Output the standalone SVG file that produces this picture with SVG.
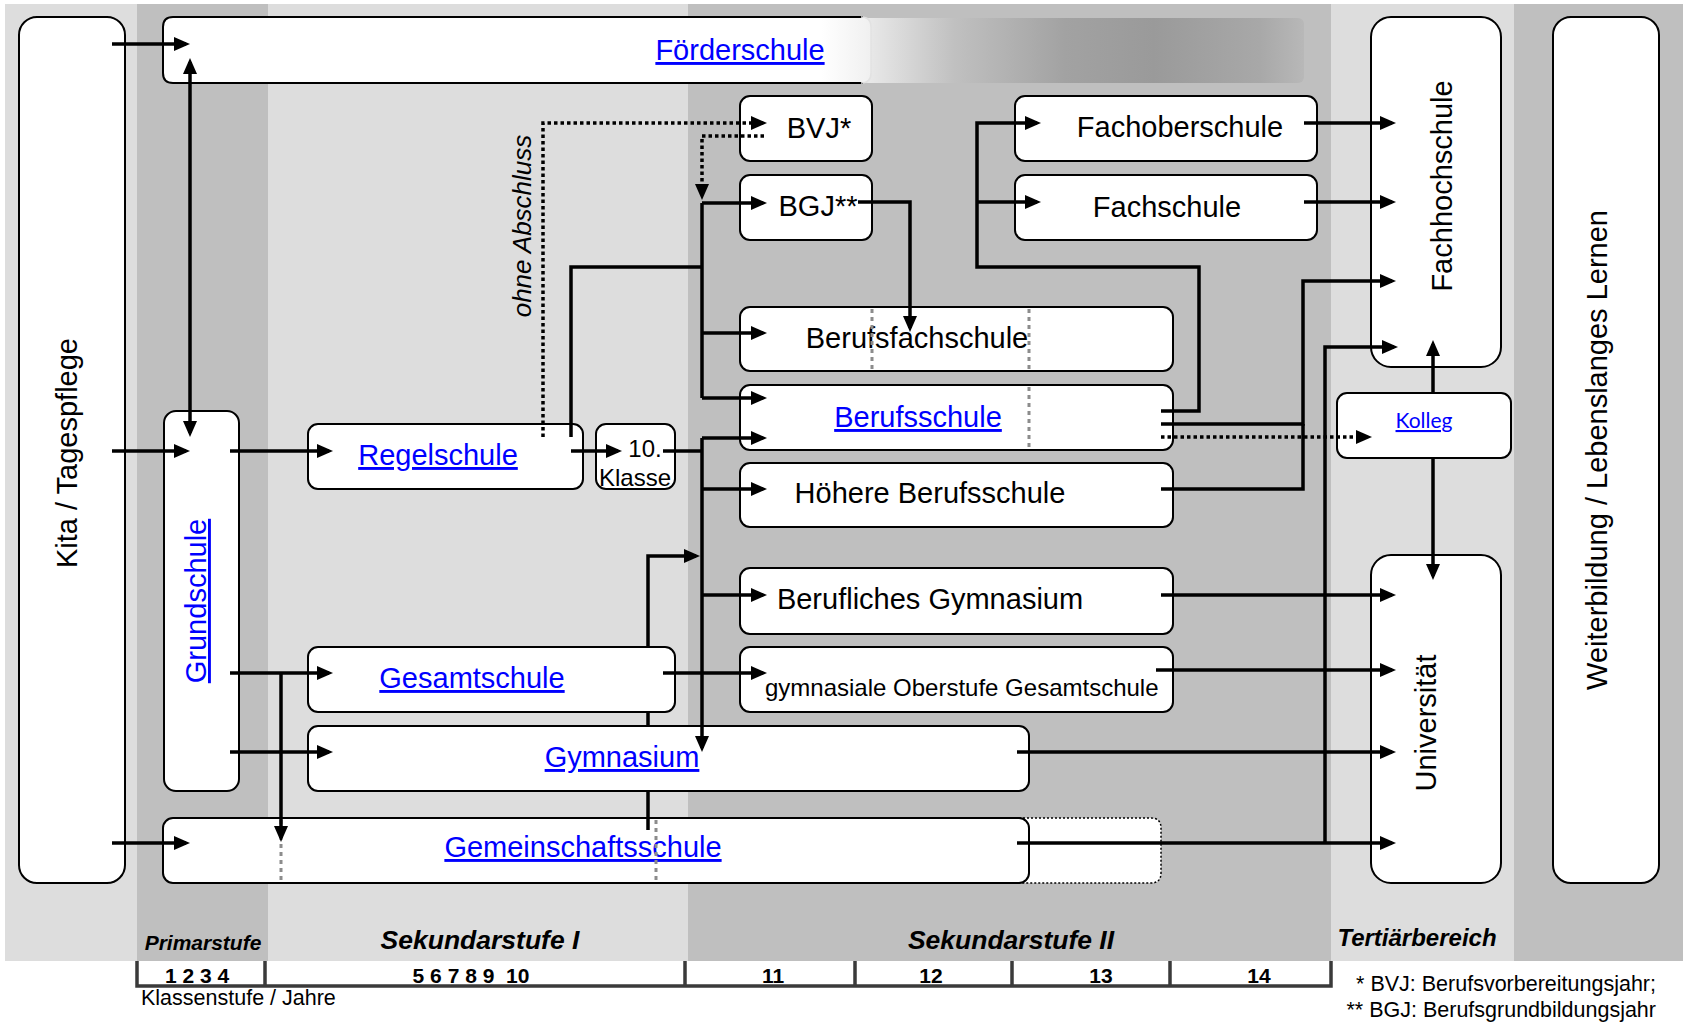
<svg xmlns="http://www.w3.org/2000/svg" width="1683" height="1023" viewBox="0 0 1683 1023">
<style>
.bg{fill:#dddddd}
.bd{fill:#bfbfbf}
.box{fill:#ffffff;stroke:#000;stroke-width:2}
.t{font-family:"Liberation Sans",Arial,sans-serif;font-size:29px;fill:#000}
.lk{fill:#0000ff;text-decoration:underline}
.mid{text-anchor:middle}
.hdr{font-family:"Liberation Sans",Arial,sans-serif;font-weight:bold;font-style:italic;fill:#000;text-anchor:middle}
.num{font-family:"Liberation Sans",Arial,sans-serif;font-weight:bold;font-size:21px;fill:#000;text-anchor:middle;white-space:pre}
.div{stroke:#8c8c8c;stroke-width:3;stroke-dasharray:4 4;fill:none}
.c{stroke:#000;stroke-width:3.5;fill:none}
.a{marker-end:url(#ah)}
.d{stroke:#000;stroke-width:3.5;fill:none;stroke-dasharray:3.5 3}
.ax{stroke:#3a3a3a;stroke-width:3.5;fill:none}
</style>
<defs>
<marker id="ah" viewBox="0 0 16 14" refX="12" refY="7" markerWidth="16" markerHeight="14" markerUnits="userSpaceOnUse" orient="auto-start-reverse">
<path d="M0,0 L16,7 L0,14 z" fill="#000"/>
</marker>
<linearGradient id="fade" x1="0" y1="0" x2="1" y2="0">
<stop offset="0" stop-color="#ececec"/>
<stop offset="0.21" stop-color="#c0c0c0"/>
<stop offset="0.46" stop-color="#a2a2a2"/>
<stop offset="0.66" stop-color="#9a9a9a"/>
<stop offset="0.9" stop-color="#a8a8a8"/>
<stop offset="1" stop-color="#b8b8b8"/>
</linearGradient>
<linearGradient id="wfade" x1="0" y1="0" x2="1" y2="0">
<stop offset="0" stop-color="#ffffff"/>
<stop offset="0.93" stop-color="#ffffff"/>
<stop offset="1" stop-color="#f0f0f0"/>
</linearGradient>
</defs>

<g id="background">
<rect class="bg" x="5" y="4" width="1678" height="957"/>
<rect class="bd" x="137" y="4" width="131" height="957"/>
<rect class="bd" x="688" y="4" width="643" height="957"/>
<rect class="bd" x="1514" y="4" width="169" height="957"/>
</g>

<g id="kita">
<rect class="box" x="19" y="17" width="106" height="866" rx="18"/>
<text class="t mid" transform="translate(77,453) rotate(-90)">Kita / Tagespflege</text>
</g>

<g id="foerderschule">
<rect x="862" y="18" width="442" height="65" rx="6" fill="url(#fade)"/>
<rect x="163" y="17" width="708" height="66" rx="10" fill="url(#wfade)"/>
<path d="M863,17 H173 Q163,17 163,27 V73 Q163,83 173,83 H863" fill="none" stroke="#000" stroke-width="2"/>
<path d="M861,17 Q871,17 871,27 V73 Q871,83 861,83" fill="none" stroke="#e2e2e2" stroke-width="1.5"/>
<text class="t mid lk" x="740" y="60">Förderschule</text>
</g>

<g id="grundschule">
<rect class="box" x="164" y="411" width="75" height="380" rx="12"/>
<text class="t mid lk" transform="translate(206,601) rotate(-90)">Grundschule</text>
</g>

<g id="regelschule">
<rect class="box" x="308" y="424" width="275" height="65" rx="10"/>
<text class="t mid lk" x="438" y="465">Regelschule</text>
</g>

<g id="klasse10">
<rect class="box" x="596" y="424" width="79" height="65" rx="10"/>
<text class="t mid" style="font-size:24px" x="645" y="457">10.</text>
<text class="t mid" style="font-size:24px" x="635" y="486">Klasse</text>
</g>

<g id="bvj">
<rect class="box" x="740" y="96" width="132" height="65" rx="10"/>
<text class="t mid" x="819" y="138">BVJ*</text>
</g>

<g id="bgj">
<rect class="box" x="740" y="175" width="132" height="65" rx="10"/>
<text class="t mid" x="818" y="216">BGJ**</text>
</g>

<g id="fachoberschule">
<rect class="box" x="1015" y="96" width="302" height="65" rx="10"/>
<text class="t mid" x="1180" y="137">Fachoberschule</text>
</g>

<g id="fachschule">
<rect class="box" x="1015" y="175" width="302" height="65" rx="10"/>
<text class="t mid" x="1167" y="217">Fachschule</text>
</g>

<g id="berufsfachschule">
<rect class="box" x="740" y="307" width="433" height="64" rx="10"/>
<text class="t mid" x="917" y="348">Berufsfachschule</text>
<path class="div" d="M872,309 V370 M1029,309 V370"/>
</g>

<g id="berufsschule">
<rect class="box" x="740" y="385" width="433" height="65" rx="10"/>
<text class="t mid lk" x="918" y="427">Berufsschule</text>
<path class="div" d="M1029,387 V449"/>
</g>

<g id="hoehere-berufsschule">
<rect class="box" x="740" y="463" width="433" height="64" rx="10"/>
<text class="t mid" x="930" y="503">Höhere Berufsschule</text>
</g>

<g id="berufliches-gymnasium">
<rect class="box" x="740" y="568" width="433" height="66" rx="10"/>
<text class="t mid" x="930" y="609">Berufliches Gymnasium</text>
</g>

<g id="gymnasiale-oberstufe">
<rect class="box" x="740" y="647" width="433" height="65" rx="10"/>
<text class="t" style="font-size:24px" x="765" y="696">gymnasiale Oberstufe Gesamtschule</text>
</g>

<g id="gesamtschule">
<rect class="box" x="308" y="647" width="367" height="65" rx="10"/>
<text class="t mid lk" x="472" y="688">Gesamtschule</text>
</g>

<g id="gymnasium">
<rect class="box" x="308" y="726" width="721" height="65" rx="10"/>
<text class="t mid lk" x="622" y="767">Gymnasium</text>
</g>

<g id="gemeinschaftsschule">
<path d="M1015,818 H1151 Q1161,818 1161,828 V873 Q1161,883 1151,883 H1015 Z" fill="#fff" stroke="#000" stroke-width="1.5" stroke-dasharray="2 2"/>
<rect class="box" x="163" y="818" width="866" height="65" rx="10"/>
<text class="t mid lk" x="583" y="857">Gemeinschaftsschule</text>
<path class="div" d="M281,820 V882 M656,820 V882"/>
</g>

<g id="fachhochschule">
<rect class="box" x="1371" y="17" width="130" height="350" rx="20"/>
<text class="t mid" transform="translate(1452,186) rotate(-90)">Fachhochschule</text>
</g>

<g id="kolleg">
<rect class="box" x="1337" y="393" width="174" height="65" rx="10"/>
<text class="mid lk" style="font-family:Lato,'Open Sans',sans-serif;font-size:21px" x="1424" y="428">Kolleg</text>
</g>

<g id="universitaet">
<rect class="box" x="1371" y="555" width="130" height="328" rx="20"/>
<text class="t mid" transform="translate(1436,723) rotate(-90)">Universität</text>
</g>

<g id="weiterbildung">
<rect class="box" x="1553" y="17" width="106" height="866" rx="18"/>
<text class="t mid" transform="translate(1607,450) rotate(-90)">Weiterbildung / Lebenslanges Lernen</text>
</g>

<g id="connectors">
<path class="c a" d="M112,44 H186"/>
<path class="c a" d="M112,451 H186"/>
<path class="c a" d="M112,843 H186"/>
<path class="c a" d="M190,62 V433" marker-start="url(#ah)"/>
<path class="c a" d="M230,451 H329"/>
<path class="c a" d="M230,673 H329"/>
<path class="c a" d="M281,673 V838"/>
<path class="c a" d="M230,752 H329"/>
<path class="c a" d="M571,451 H618"/>
<path class="c" d="M663,451 H702"/>
<path class="c" d="M571,437 V267 H702"/>
<path class="c" d="M702,203 V398"/>
<path class="c a" d="M702,203 H763"/>
<path class="c a" d="M702,333 H763"/>
<path class="c a" d="M702,398 H763"/>
<path class="c a" d="M702,438 V748"/>
<path class="c a" d="M702,438 H763"/>
<path class="c a" d="M702,489 H763"/>
<path class="c a" d="M702,595 H763"/>
<path class="c a" d="M648,647 V556 H696"/>
<path class="c" d="M648,712 V726 M648,791 V830"/>
<path class="c a" d="M663,673 H763"/>
<path class="c a" d="M858,202 H910 V328"/>
<path class="d a" d="M543,437 V123 H763"/>
<path class="d a" d="M764,136 H702 V196"/>
<path class="c a" d="M1161,411 H1199 V267 H977 V123 H1037"/>
<path class="c a" d="M977,202 H1037"/>
<path class="c a" d="M1304,123 H1392"/>
<path class="c a" d="M1304,202 H1392"/>
<path class="c a" d="M1161,424 H1303 V281 H1392"/>
<path class="c" d="M1161,489 H1303 V424"/>
<path class="d a" d="M1161,437 H1368"/>
<path class="c a" d="M1325,843 V347 H1394"/>
<path class="c a" d="M1433,393 V344"/>
<path class="c a" d="M1433,458 V576"/>
<path class="c a" d="M1161,595 H1392"/>
<path class="c a" d="M1156,670 H1392"/>
<path class="c a" d="M1017,752 H1392"/>
<path class="c a" d="M1017,843 H1392"/>
</g>

<g id="ohne-abschluss">
<text class="t mid" style="font-size:26px;font-style:italic" transform="translate(531,226) rotate(-90)">ohne Abschluss</text>
</g>

<g id="stage-labels">
<text class="hdr" style="font-size:21px" x="203" y="950">Primarstufe</text>
<text class="hdr" style="font-size:26.5px" x="480" y="949">Sekundarstufe I</text>
<text class="hdr" style="font-size:26.5px" x="1011" y="949">Sekundarstufe II</text>
<text class="hdr" style="font-size:24px" x="1417" y="946">Tertiärbereich</text>
</g>

<g id="axis">
<path class="ax" d="M137,961 V986 H1331 V961 M265,961 V986 M685,961 V986 M855,961 V986 M1012,961 V986 M1170,961 V986"/>
<text class="num" x="197" y="983">1 2 3 4</text>
<text class="num" x="471" y="983">5 6 7 8 9  10</text>
<text class="num" x="773" y="983">11</text>
<text class="num" x="931" y="983">12</text>
<text class="num" x="1101" y="983">13</text>
<text class="num" x="1259" y="983">14</text>
<text class="t" style="font-size:21.5px" x="141" y="1005">Klassenstufe / Jahre</text>
</g>

<g id="footnotes">
<text class="t" style="font-size:21.5px;text-anchor:end" x="1656" y="991">* BVJ: Berufsvorbereitungsjahr;</text>
<text class="t" style="font-size:21.5px;text-anchor:end" x="1656" y="1017">** BGJ: Berufsgrundbildungsjahr</text>
</g>
</svg>
